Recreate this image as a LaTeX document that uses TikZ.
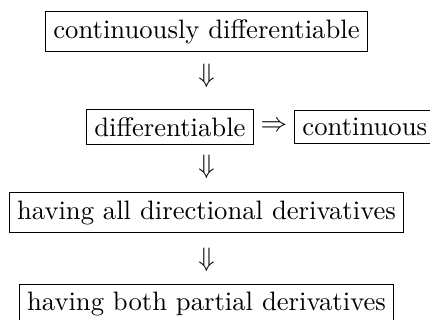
\documentclass[tikz,border=0pt]{standalone}
\begin{document}
\begin{tikzpicture}[x=0.3750pt,y=-0.3750pt,
  cond/.style={draw,line width=0.4pt,inner sep=3pt,outer sep=0pt,font=\normalsize},
  impl/.style={inner sep=0pt,outer sep=0pt,font=\normalsize}]
\useasboundingbox (0,0) rectangle (430,320);
\clip (0,0) rectangle (430,320);
\node[cond] (cd) at (206.5,31.5) {continuously differentiable};
\node[impl] (a1) at (206.5,76) {$\Downarrow$};
\node[cond,anchor=east] (d) at (253.5,127) {differentiable};
\node[impl] (a2) at (274,127) {$\Rightarrow$};
\node[cond,anchor=west] (c) at (294.5,127) {continuous};
\node[impl] (a3) at (206.5,167) {$\Downarrow$};
\node[cond] (dd) at (206.5,212.5) {having all directional derivatives};
\node[impl] (a4) at (206.5,260) {$\Downarrow$};
\node[cond,anchor=north] (pd) at (206.5,284.5) {having both partial derivatives};
\end{tikzpicture}
\end{document}
